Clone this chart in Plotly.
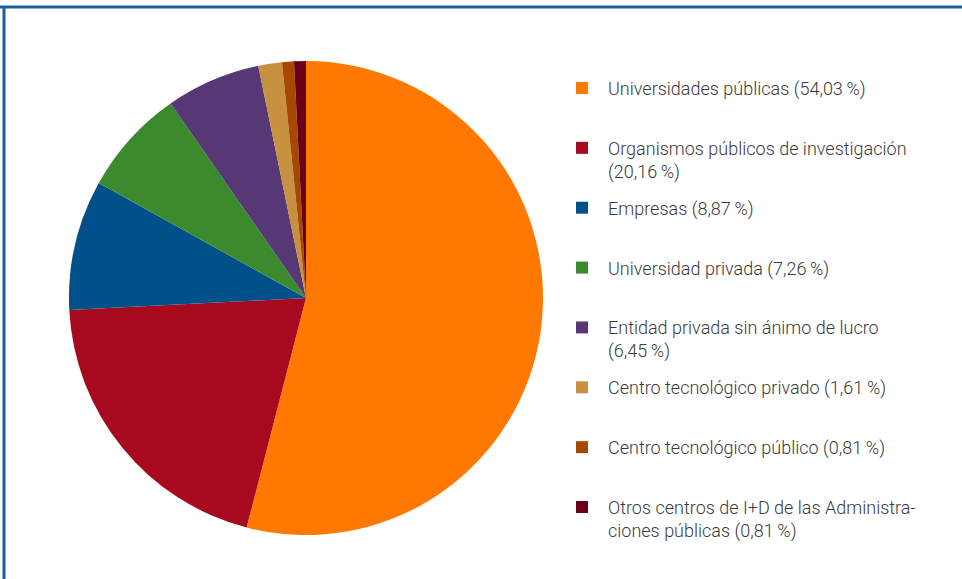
import plotly.graph_objects as go

W, H = 962, 579

labels = [
    "Universidades públicas",
    "Organismos públicos de investigación",
    "Empresas",
    "Universidad privada",
    "Entidad privada sin ánimo de lucro",
    "Centro tecnológico privado",
    "Centro tecnológico público",
    "Otros centros de I+D de las Administraciones públicas",
]
values = [54.03, 20.16, 8.87, 7.26, 6.45, 1.61, 0.81, 0.81]
legend_text = [
    "Universidades públicas (54,03\u2009%)",
    "Organismos públicos de investigación<br>(20,16\u2009%)",
    "Empresas (8,87\u2009%)",
    "Universidad privada (7,26\u2009%)",
    "Entidad privada sin ánimo de lucro<br>(6,45\u2009%)",
    "Centro tecnológico privado (1,61\u2009%)",
    "Centro tecnológico público (0,81\u2009%)",
    "Otros centros de I+D de las Administra-<br>ciones públicas (0,81\u2009%)",
]
colors = ["#FF7800", "#A70A1F", "#00508A", "#3C8A2E", "#573874",
          "#C8913F", "#A54800", "#6B0016"]

FONT = "Roboto, Lato, sans-serif"

fig = go.Figure(go.Pie(
    labels=labels,
    values=values,
    marker=dict(colors=colors, line=dict(width=0)),
    sort=False,
    direction="clockwise",
    rotation=0,
    textinfo="none",
    hoverinfo="label+percent",
    showlegend=False,
    domain=dict(x=[69 / W, 543 / W], y=[(H - 535) / H, (H - 61) / H]),
))

def px(x):
    return x / W

def py(y):
    return 1 - y / H

shapes = []
annotations = []
row0, step = 88, 59.86
for i, (txt, c) in enumerate(zip(legend_text, colors)):
    yc = row0 + step * i
    shapes.append(dict(type="rect", xref="paper", yref="paper",
                       x0=px(576), x1=px(588), y0=py(yc - 6), y1=py(yc + 6),
                       fillcolor=c, line=dict(width=0)))
    annotations.append(dict(xref="paper", yref="paper", x=px(606), y=py(yc - 12),
                            xanchor="left", yanchor="top", showarrow=False,
                            align="left", text=txt,
                            font=dict(family=FONT, size=18, weight=300,
                                      color="#3a3a3a")))

# frame lines along the top and left edges
shapes.append(dict(type="line", xref="paper", yref="paper",
                   x0=0, x1=1, y0=py(7), y1=py(7),
                   line=dict(color="#1A5EA6", width=3)))
shapes.append(dict(type="line", xref="paper", yref="paper",
                   x0=px(4), x1=px(4), y0=0, y1=py(6),
                   line=dict(color="#1A5EA6", width=3)))

fig.update_layout(
    width=W, height=H,
    margin=dict(l=0, r=0, t=0, b=0),
    paper_bgcolor="white",
    plot_bgcolor="white",
    shapes=shapes,
    annotations=annotations,
)

fig.write_html("out.html")
